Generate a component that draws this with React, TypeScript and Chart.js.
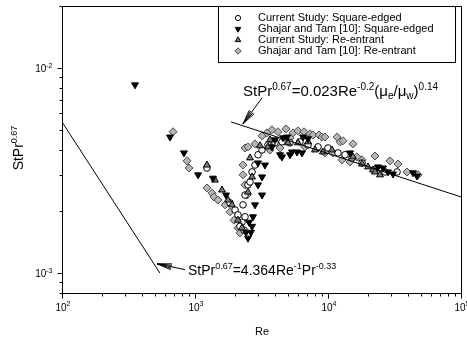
import React, { useEffect, useRef } from "react";
import { Chart, registerables } from "chart.js";
Chart.register(...registerables);

// ---------------- data ----------------
const reCurSq = [1230, 1833, 2000, 2104, 2255, 2377, 2178, 2336, 2296, 2377, 2502, 2592, 2685, 2825, 2978, 3192, 3538, 3997, 4511, 5178, 6153, 7080, 8414, 10000, 11885, 13428, 15140, 18030, 22550, 26850, 33040];
const stCurSq = [0.00325, 0.0022, 0.00203, 0.00192, 0.00177, 0.00188, 0.00169, 0.00162, 0.00215, 0.0024, 0.00269, 0.00278, 0.00311, 0.00336, 0.00377, 0.00398, 0.00421, 0.00431, 0.00436, 0.00431, 0.00436, 0.00421, 0.00412, 0.00407, 0.00385, 0.00377, 0.00364, 0.00344, 0.00318, 0.00311, 0.00311];

const reGtSq = [354, 649, 826, 1055, 1365, 1710, 2417, 2502, 2636, 2685, 2547, 2729, 2825, 3192, 2978, 3192, 2978, 3359, 3793, 3997, 4357, 4511, 4590, 4920, 5178, 5361, 5845, 6377, 6490, 7080, 14638, 23770, 25940, 28250, 30830, 43550, 46700];
const stGtSq = [0.00826, 0.0046, 0.00385, 0.00301, 0.0029, 0.0024, 0.00158, 0.00148, 0.00158, 0.00169, 0.00177, 0.00188, 0.00215, 0.0024, 0.00269, 0.00294, 0.00344, 0.00336, 0.00412, 0.00446, 0.00377, 0.00368, 0.00456, 0.0046, 0.00377, 0.00389, 0.00389, 0.00385, 0.0046, 0.00451, 0.00385, 0.00329, 0.00325, 0.00311, 0.00304, 0.00308, 0.00297];

const reCurRe = [1230, 1413, 1596, 1771, 1897, 2104, 2255, 2592, 2685, 2502, 3083, 3538, 3664, 5000, 5943, 7080, 7980, 9160, 10715, 15407, 18030, 20000, 21780, 22550, 24600];
const stCurRe = [0.00336, 0.00284, 0.00254, 0.00227, 0.00215, 0.00181, 0.00166, 0.00364, 0.00294, 0.00248, 0.00417, 0.00412, 0.00446, 0.00431, 0.00431, 0.00436, 0.00398, 0.00389, 0.00398, 0.00368, 0.0034, 0.00329, 0.00318, 0.00311, 0.00301];

const reGtRe = [684, 871, 901, 1230, 1343, 1390, 1489, 1683, 1833, 1965, 2104, 2178, 2296, 2296, 2377, 2460, 2377, 2502, 2825, 3192, 3475, 3793, 4207, 4831, 5456, 5943, 6601, 7329, 7715, 8551, 9016, 9484, 11690, 12303, 12972, 15407, 9484, 10910, 12740, 14638, 16510, 18030, 22550, 29250, 33590, 39260, 47520, 3664, 4357, 5178, 6720];
const stGtRe = [0.00488, 0.00352, 0.00325, 0.0026, 0.00245, 0.00235, 0.00227, 0.00215, 0.00199, 0.00181, 0.00166, 0.00157, 0.00336, 0.00301, 0.00269, 0.0024, 0.00407, 0.00412, 0.00426, 0.00466, 0.00482, 0.00499, 0.00488, 0.00504, 0.00482, 0.00493, 0.00488, 0.00477, 0.00471, 0.00471, 0.0046, 0.0046, 0.0046, 0.00436, 0.00441, 0.00426, 0.00385, 0.00385, 0.00356, 0.00348, 0.00368, 0.00356, 0.00372, 0.00352, 0.0034, 0.00311, 0.00301, 0.00398, 0.00407, 0.00456, 0.00412];

const laminarRe = [100, 545];
const laminarSt = [0.00545, 0.001];
const turbRe = [1866, 100000];
const turbSt = [0.00545, 0.00235];

const legendLabels = [
  "Current Study: Square-edged",
  "Ghajar and Tam [10]: Square-edged",
  "Current Study: Re-entrant",
  "Ghajar and Tam [10]: Re-entrant",
];
const xMajor = [100, 1000, 10000, 100000];
const xExp = ["2", "3", "4", "5"];
const yMajor = [0.001, 0.01];
const yExp = ["-3", "-2"];

// annotation anchors (data coordinates)
const turbArrow = { tipRe: 2296, tipSt: 0.00533, tailRe: 3192, tailSt: 0.00714, textRe: 2296, textSt: 0.0073 };
const lamArrow = { tipRe: 518, tipSt: 0.00111, tailRe: 841, tailSt: 0.00104, textRe: 885, textSt: 0.000978 };

const FONT = "'Liberation Sans', Arial, sans-serif";

type Seg = { t: string; s?: "sup" | "sub" };
const turbFormula: Seg[] = [
  { t: "StPr" }, { t: "0.67", s: "sup" }, { t: "=0.023Re" }, { t: "-0.2", s: "sup" },
  { t: "(\u03bc" }, { t: "e", s: "sub" }, { t: "/\u03bc" }, { t: "w", s: "sub" }, { t: ")" }, { t: "0.14", s: "sup" },
];
const lamFormula: Seg[] = [
  { t: "StPr" }, { t: "0.67", s: "sup" }, { t: "=4.364Re" }, { t: "-1", s: "sup" }, { t: "Pr" }, { t: "-0.33", s: "sup" },
];
const yTitle: Seg[] = [{ t: "StPr" }, { t: "0.67", s: "sup" }];

function richWidth(ctx: CanvasRenderingContext2D, segs: Seg[], size: number, small: number) {
  let w = 0;
  for (const s of segs) {
    ctx.font = `${s.s ? small : size}px ${FONT}`;
    w += ctx.measureText(s.t).width;
  }
  return w;
}
function drawRich(ctx: CanvasRenderingContext2D, segs: Seg[], x: number, y: number, size: number, small: number) {
  let cx = x;
  ctx.textBaseline = "alphabetic";
  ctx.textAlign = "left";
  for (const s of segs) {
    ctx.font = `${s.s ? small : size}px ${FONT}`;
    const dy = s.s === "sup" ? -size * 0.42 : s.s === "sub" ? size * 0.22 : 0;
    ctx.fillText(s.t, cx, y + dy);
    cx += ctx.measureText(s.t).width;
  }
}

function marker(ctx: CanvasRenderingContext2D, kind: number, x: number, y: number) {
  ctx.beginPath();
  ctx.lineWidth = 1;
  if (kind === 0) {
    ctx.arc(x, y, 2.6, 0, Math.PI * 2);
    ctx.fillStyle = "#fff"; ctx.strokeStyle = "#000";
  } else if (kind === 1) {
    const r = 3.2;
    ctx.moveTo(x, y + r); ctx.lineTo(x + r * 0.866, y - r / 2); ctx.lineTo(x - r * 0.866, y - r / 2); ctx.closePath();
    ctx.fillStyle = "#000"; ctx.strokeStyle = "#000";
  } else if (kind === 2) {
    const r = 3.2;
    ctx.moveTo(x, y - r); ctx.lineTo(x + r * 0.866, y + r / 2); ctx.lineTo(x - r * 0.866, y + r / 2); ctx.closePath();
    ctx.fillStyle = "#7a7a7a"; ctx.strokeStyle = "#000";
  } else {
    const r = 3.2;
    ctx.moveTo(x, y - r); ctx.lineTo(x + r, y); ctx.lineTo(x, y + r); ctx.lineTo(x - r, y); ctx.closePath();
    ctx.fillStyle = "#b4b4b4"; ctx.strokeStyle = "#4a4a4a";
  }
  ctx.fill(); ctx.stroke();
}

function arrow(ctx: CanvasRenderingContext2D, tx: number, ty: number, sx: number, sy: number) {
  const ang = Math.atan2(sy - ty, sx - tx);
  const L = 15;
  ctx.beginPath();
  ctx.moveTo(sx, sy); ctx.lineTo(tx, ty);
  for (const a of [-0.2, 0.2, -0.1, 0.1]) {
    ctx.moveTo(tx, ty);
    ctx.lineTo(tx + Math.cos(ang + a) * L, ty + Math.sin(ang + a) * L);
  }
  ctx.stroke();
}

const overlay = {
  id: "overlay",
  afterDraw(chart: any) {
    const ctx: CanvasRenderingContext2D = chart.ctx;
    const { left, right, top, bottom } = chart.chartArea;
    const xs = chart.scales.x, ys = chart.scales.y;
    const L = Math.round(left) + 0.5, R = Math.round(right) + 0.5, T = Math.round(top) + 0.5, B = Math.round(bottom) + 0.5;
    ctx.save();
    ctx.strokeStyle = "#000"; ctx.fillStyle = "#000"; ctx.lineWidth = 1;
    ctx.beginPath();
    ctx.rect(L, T, R - L, B - T);
    ctx.stroke();
    // x ticks
    ctx.beginPath();
    for (let d = 2; d <= 5; d++) {
      for (let m = 1; m <= 9; m++) {
        const v = m * Math.pow(10, d);
        if (v > 100000 * 1.0001) continue;
        const px = Math.round(xs.getPixelForValue(v)) + 0.5;
        ctx.moveTo(px, B); ctx.lineTo(px, B + (m === 1 ? 5 : 3));
      }
    }
    // y ticks
    for (let d = -4; d <= -2; d++) {
      for (let m = 1; m <= 9; m++) {
        const v = m * Math.pow(10, d);
        if (v < ys.min * 0.999 || v > ys.max * 1.001) continue;
        const py = Math.round(ys.getPixelForValue(v)) + 0.5;
        ctx.moveTo(L, py); ctx.lineTo(L - (m === 1 ? 5 : 3), py);
      }
    }
    ctx.stroke();
    // tick labels
    xMajor.forEach((v, i) => {
      const segs: Seg[] = [{ t: "10" }, { t: xExp[i], s: "sup" }];
      const w = richWidth(ctx, segs, 10, 7);
      const px = xs.getPixelForValue(v);
      drawRich(ctx, segs, px - w / 2 + 1, B + 17, 10, 7);
    });
    yMajor.forEach((v, i) => {
      const segs: Seg[] = [{ t: "10" }, { t: yExp[i], s: "sup" }];
      const w = richWidth(ctx, segs, 10, 7);
      const py = ys.getPixelForValue(v);
      drawRich(ctx, segs, L - 10 - w, py + 4, 10, 7);
    });
    // axis titles
    ctx.font = `11px ${FONT}`;
    ctx.textAlign = "center"; ctx.textBaseline = "alphabetic";
    ctx.fillText("Re", (L + R) / 2, B + 41);
    ctx.save();
    const tw = richWidth(ctx, yTitle, 14, 9);
    ctx.translate(23, 148);
    ctx.rotate(-Math.PI / 2);
    drawRich(ctx, yTitle, -tw / 2, 0, 14, 9);
    ctx.restore();
    // annotations
    const tX = xs.getPixelForValue(turbArrow.textRe), tY = ys.getPixelForValue(turbArrow.textSt);
    drawRich(ctx, turbFormula, tX, tY, 15, 10);
    arrow(ctx, xs.getPixelForValue(turbArrow.tipRe), ys.getPixelForValue(turbArrow.tipSt), xs.getPixelForValue(turbArrow.tailRe), ys.getPixelForValue(turbArrow.tailSt));
    const lX = xs.getPixelForValue(lamArrow.textRe), lY = ys.getPixelForValue(lamArrow.textSt);
    drawRich(ctx, lamFormula, lX, lY, 14, 9);
    arrow(ctx, xs.getPixelForValue(lamArrow.tipRe), ys.getPixelForValue(lamArrow.tipSt), xs.getPixelForValue(lamArrow.tailRe), ys.getPixelForValue(lamArrow.tailSt));
    // legend
    const bx = 218.5, by = T, bw = 455 - 218, bh = 62 - Math.round(top);
    ctx.fillStyle = "#fff";
    ctx.fillRect(bx, by, bw, bh);
    ctx.strokeStyle = "#000";
    ctx.strokeRect(bx, by, bw, bh);
    legendLabels.forEach((lab, i) => {
      const y = 18 + i * 11;
      marker(ctx, i, 238, y);
      ctx.fillStyle = "#000";
      ctx.font = `11px ${FONT}`;
      ctx.textAlign = "left"; ctx.textBaseline = "middle";
      ctx.fillText(lab, 258, y);
    });
    ctx.restore();
  },
};

function pts(xs: number[], ys: number[]) {
  return xs.map((x, i) => ({ x, y: ys[i] }));
}

export default function App() {
  const ref = useRef<HTMLCanvasElement>(null);
  useEffect(() => {
    document.body.style.margin = "0";
    const chart = new Chart(ref.current!, {
      type: "scatter",
      data: {
        datasets: [
          { label: "lam", data: pts(laminarRe, laminarSt), showLine: true, pointRadius: 0, borderColor: "#000", borderWidth: 1, order: 0 },
          { label: "turb", data: pts(turbRe, turbSt), showLine: true, pointRadius: 0, borderColor: "#000", borderWidth: 1, order: 0 },
          { label: legendLabels[3], data: pts(reGtRe, stGtRe), pointStyle: "rectRot", pointRadius: 4, backgroundColor: "#b4b4b4", borderColor: "#4a4a4a", borderWidth: 1, order: 4 },
          { label: legendLabels[0], data: pts(reCurSq, stCurSq), pointStyle: "circle", pointRadius: 3.3, backgroundColor: "#fff", borderColor: "#000", borderWidth: 1, order: 3 },
          { label: legendLabels[2], data: pts(reCurRe, stCurRe), pointStyle: "triangle", pointRadius: 4, backgroundColor: "#7a7a7a", borderColor: "#000", borderWidth: 1, order: 2 },
          { label: legendLabels[1], data: pts(reGtSq, stGtSq), pointStyle: "triangle", rotation: 180, pointRadius: 4, backgroundColor: "#000", borderColor: "#000", borderWidth: 1, order: 1 } as any,
        ],
      },
      options: {
        animation: false,
        responsive: false,
        events: [],
        layout: { padding: { left: 62, right: 6, top: 6, bottom: 45 } },
        plugins: { legend: { display: false }, tooltip: { enabled: false } },
        scales: {
          x: { type: "logarithmic", min: 100, max: 100000, display: false },
          y: { type: "logarithmic", min: 0.0008, max: 0.02, display: false },
        },
      },
      plugins: [overlay],
    });
    return () => chart.destroy();
  }, []);
  return <canvas ref={ref} width={467} height={338} style={{ display: "block" }} />;
}
